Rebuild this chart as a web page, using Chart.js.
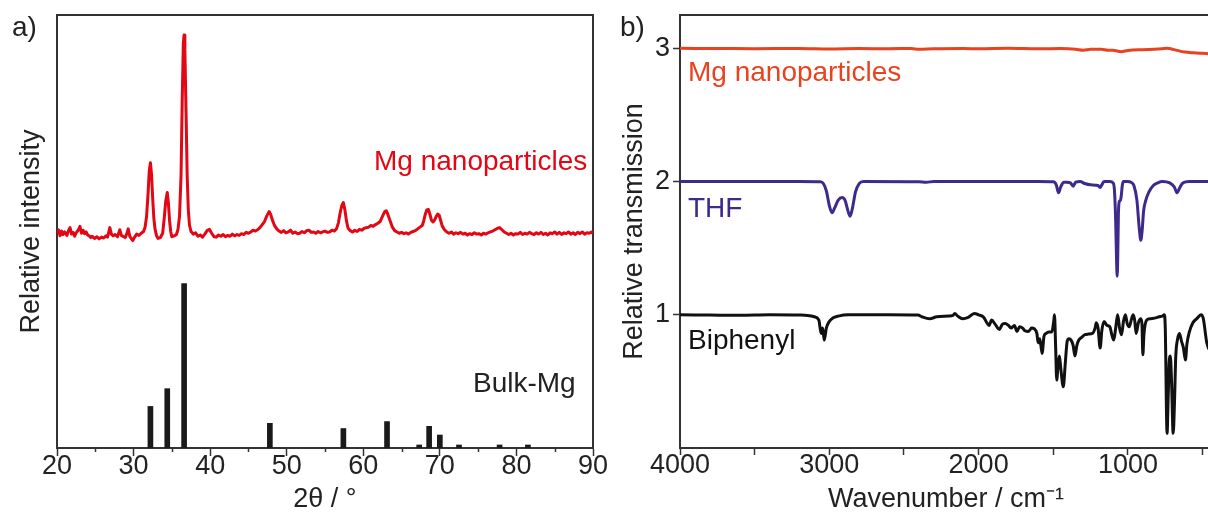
<!DOCTYPE html>
<html lang="en">
<head>
<meta charset="UTF-8">
<title>Mg nanoparticles - XRD and IR</title>
<script src="https://cdn.jsdelivr.net/npm/chart.js@4.4.0/dist/chart.umd.min.js"></script>
<style>
  body { margin: 0; background: #fff; width: 1208px; height: 519px; overflow: hidden; position: relative;
         font-family: "Liberation Sans", Arial, sans-serif; color: #222; }
  canvas { position: absolute; top: 0; }
  #xrdChart { left: 0; }
  #irChart { left: 600px; }
  .lbl { position: absolute; font-size: 28px; line-height: 28px; white-space: nowrap; }
</style>
</head>
<body>
<canvas id="xrdChart" width="640" height="519"></canvas>
<canvas id="irChart" width="620" height="519"></canvas>

<div class="lbl" style="left:12px; top:13px;">a)</div>
<div class="lbl" style="left:620px; top:13px;">b)</div>
<div class="lbl" style="left:374px; top:147px; color:#e30613;">Mg nanoparticles</div>
<div class="lbl" style="left:473px; top:369px; color:#222;">Bulk-Mg</div>
<div class="lbl" style="left:688px; top:58px; color:#e8431e;">Mg nanoparticles</div>
<div class="lbl" style="left:688px; top:194px; color:#3d2a8c;">THF</div>
<div class="lbl" style="left:688px; top:326px; color:#111;">Biphenyl</div>

<script>
// ---- a) XRD data ----
const xrdTicks = [20, 30, 40, 50, 60, 70, 80, 90];
const xrdMinorTicks = [25, 35, 45, 55, 65, 75, 85];

// Mg nanoparticles pattern [2theta, intensity]
const xrdNano = [
  [20.0,49.6],[20.2,50.4],[20.4,49.0],[20.6,50.1],[20.8,49.3],[21.0,49.9],[21.3,49.1],[21.5,50.2],[21.7,50.9],[21.9,49.4],
  [22.1,49.8],[22.3,48.9],[22.5,49.7],[22.8,50.4],[23.0,51.2],[23.2,49.6],[23.4,50.3],[23.6,49.5],[23.8,49.9],[24.0,49.2],
  [24.2,49.0],[24.4,48.6],[24.6,48.9],[24.9,48.4],[25.2,48.8],[25.5,48.3],[25.8,48.7],[26.1,48.5],[26.4,49.0],[26.6,48.7],
  [26.9,50.9],[27.1,49.4],[27.3,49.0],[27.6,49.3],[27.9,48.8],[28.2,50.4],[28.4,49.1],[28.7,48.8],[28.9,48.6],[29.1,49.4],
  [29.3,50.6],[29.5,48.9],[29.7,48.4],[29.9,47.9],[30.1,48.6],[30.4,49.4],[30.7,49.1],[31.0,49.6],[31.3,50.0],[31.5,51.0],
  [31.7,53.5],[31.9,59.0],[32.05,64.0],[32.2,65.9],[32.35,63.0],[32.5,57.5],[32.65,53.0],[32.8,50.6],[33.0,49.0],[33.2,48.4],
  [33.5,48.6],[33.8,49.6],[34.0,53.0],[34.2,57.0],[34.4,59.0],[34.55,56.5],[34.7,52.5],[34.85,50.0],[35.0,48.8],[35.3,49.0],
  [35.6,49.3],[35.8,50.5],[36.0,53.5],[36.2,63.0],[36.35,80.0],[36.5,93.5],[36.6,95.4],[36.7,92.0],[36.85,78.0],[37.0,63.0],
  [37.15,55.0],[37.3,51.5],[37.5,50.0],[37.8,49.4],[38.1,49.7],[38.4,48.9],[38.7,49.2],[39.0,48.7],[39.3,49.4],[39.6,50.2],
  [39.9,50.5],[40.2,49.6],[40.5,48.8],[40.8,48.7],[41.1,49.2],[41.4,48.9],[41.7,49.3],[42.0,48.8],[42.3,49.1],[42.6,48.9],
  [42.9,49.4],[43.2,49.0],[43.5,49.3],[43.8,49.1],[44.1,49.5],[44.4,49.3],[44.7,49.8],[45.0,49.6],[45.3,49.9],[45.6,50.3],
  [45.9,50.1],[46.2,50.4],[46.5,50.9],[46.8,51.6],[47.1,52.3],[47.4,53.6],[47.7,54.6],[47.9,54.0],[48.1,52.8],[48.4,51.4],
  [48.7,50.6],[49.0,50.1],[49.3,49.8],[49.6,50.2],[49.9,49.7],[50.2,49.9],[50.5,50.3],[50.8,49.6],[51.1,49.9],[51.4,49.5],
  [51.7,49.6],[52.0,50.0],[52.3,49.7],[52.6,50.2],[52.9,50.3],[53.2,49.8],[53.5,49.9],[53.8,49.6],[54.1,50.0],[54.4,49.7],
  [54.7,49.9],[55.0,50.1],[55.3,49.8],[55.6,49.9],[55.9,50.3],[56.2,50.1],[56.5,50.6],[56.75,52.0],[57.0,54.5],[57.2,56.0],
  [57.4,56.7],[57.6,55.0],[57.8,52.5],[58.0,50.8],[58.3,50.2],[58.6,49.9],[58.9,50.3],[59.2,50.0],[59.5,50.5],[59.8,50.3],
  [60.1,50.7],[60.4,50.9],[60.7,51.0],[61.0,51.4],[61.3,51.2],[61.6,51.6],[61.9,51.9],[62.2,52.3],[62.5,53.5],[62.8,54.6],
  [63.0,54.8],[63.2,54.0],[63.5,52.5],[63.8,51.0],[64.1,50.2],[64.4,49.9],[64.7,49.6],[65.0,49.8],[65.3,49.5],[65.6,49.7],
  [65.9,49.4],[66.2,49.8],[66.5,50.0],[66.8,50.2],[67.1,50.6],[67.4,51.0],[67.7,51.4],[67.9,52.5],[68.1,54.0],[68.3,55.0],
  [68.5,55.1],[68.7,54.0],[68.9,52.6],[69.1,52.2],[69.3,52.6],[69.5,53.4],[69.7,54.0],[69.9,53.8],[70.1,52.6],[70.3,51.3],
  [70.6,50.4],[70.9,49.9],[71.2,49.6],[71.5,49.9],[71.8,49.4],[72.1,49.7],[72.4,49.5],[72.7,49.8],[73.0,49.4],[73.3,49.6],
  [73.6,49.2],[73.9,49.5],[74.2,49.3],[74.5,49.7],[74.8,49.4],[75.1,49.5],[75.4,49.2],[75.7,49.6],[76.0,49.4],[76.3,49.7],
  [76.6,49.9],[76.9,50.1],[77.2,50.4],[77.5,50.7],[77.8,50.9],[78.1,50.4],[78.4,49.9],[78.7,49.6],[79.0,49.3],[79.3,49.6],
  [79.6,49.2],[79.9,49.5],[80.2,49.4],[80.5,49.8],[80.8,49.3],[81.1,49.6],[81.4,49.4],[81.7,49.8],[82.0,49.5],[82.3,49.3],
  [82.6,49.7],[82.9,49.4],[83.2,49.8],[83.5,49.3],[83.8,49.6],[84.1,49.2],[84.4,49.7],[84.7,49.5],[85.0,49.9],[85.3,49.4],
  [85.6,49.8],[85.9,49.3],[86.2,49.7],[86.5,49.5],[86.8,49.9],[87.1,49.4],[87.4,49.7],[87.7,49.3],[88.0,49.8],[88.3,49.5],
  [88.6,49.9],[88.9,49.4],[89.2,49.7],[89.5,49.6],[89.8,49.9],[90.0,49.6]
];

// Bulk-Mg reference reflections
const bulkAngles    = [32.2, 34.4, 36.6, 47.8, 57.4, 63.1, 67.3, 68.6, 70.0, 72.5, 77.8, 81.5];
const bulkIntensity = [9.6, 13.7, 38.0, 5.7, 4.5, 6.1, 0.7, 5.0, 3.0, 0.7, 0.7, 0.7];

// ---- b) IR data [wavenumber, relative transmission] ----
const irTicks = [4000, 3500, 3000, 2500, 2000, 1500, 1000, 500];
const irYTicks = [1, 2, 3];

const irMg = [
  [4000,3.0],[3700,2.998],[3500,2.997],[3200,2.999],[3000,2.995],[2800,2.998],[2600,2.997],[2450,2.999],[2400,2.992],
  [2300,2.996],[2100,2.998],[2000,2.997],[1800,3.0],[1600,2.996],[1450,2.998],[1350,2.993],[1300,2.986],[1250,2.992],
  [1180,2.993],[1133,2.985],[1100,2.985],[1046,2.975],[1000,2.984],[900,2.99],[800,2.994],[740,3.0],[725,2.998],
  [690,2.99],[620,2.972],[560,2.966],[500,2.962],[437,2.958]
];

const irTHF = [
  [4000,2.0],[3600,2.0],[3200,2.0],[3060,1.998],[3040,1.985],[3020,1.93],[3000,1.82],[2982,1.765],[2965,1.8],[2940,1.86],
  [2915,1.88],[2895,1.86],[2875,1.78],[2861,1.74],[2845,1.8],[2825,1.92],[2800,1.985],[2770,2.0],[2400,1.998],[2350,1.995],
  [2300,2.0],[1600,2.0],[1500,1.998],[1480,1.975],[1465,1.915],[1450,1.96],[1430,1.995],[1410,1.995],[1385,1.99],
  [1367,1.965],[1350,1.995],[1320,2.0],[1290,1.985],[1250,1.975],[1200,1.97],[1187,1.955],[1175,1.975],[1160,2.0],
  [1120,2.0],[1100,1.99],[1090,1.93],[1082,1.7],[1076,1.4],[1072,1.29],[1068,1.45],[1064,1.75],[1058,1.85],[1050,1.86],
  [1044,1.9],[1038,1.97],[1030,2.0],[1000,2.0],[980,1.995],[960,1.97],[940,1.86],[925,1.66],[914,1.56],[905,1.63],
  [895,1.78],[880,1.86],[860,1.92],[830,1.97],[800,1.99],[770,2.0],[720,1.99],[690,1.96],[670,1.915],[655,1.95],
  [630,1.99],[590,2.0],[437,2.0]
];

const irBiphenyl = [
  [4000,1.0],[3800,0.998],[3600,0.996],[3400,1.0],[3200,0.998],[3146,0.995],[3100,0.985],[3070,0.96],[3055,0.86],
  [3045,0.9],[3034,0.81],[3020,0.9],[3000,0.95],[2977,0.975],[2940,0.99],[2873,1.0],[2600,1.0],[2406,0.998],[2380,0.985],
  [2328,0.97],[2280,0.985],[2200,0.99],[2172,0.995],[2160,1.01],[2140,0.99],[2107,0.97],[2070,0.98],[2030,1.01],
  [2000,1.0],[1965,0.98],[1945,0.94],[1930,0.92],[1913,0.96],[1890,0.93],[1861,0.89],[1840,0.93],[1822,0.935],
  [1800,0.92],[1783,0.9],[1760,0.92],[1744,0.875],[1725,0.91],[1705,0.9],[1690,0.88],[1666,0.875],[1645,0.9],
  [1627,0.895],[1610,0.86],[1601,0.79],[1590,0.82],[1575,0.71],[1562,0.84],[1549,0.86],[1530,0.87],[1510,0.87],
  [1497,0.95],[1492,1.0],[1484,0.75],[1477,0.51],[1468,0.62],[1459,0.69],[1450,0.6],[1433,0.46],[1420,0.63],[1407,0.8],
  [1395,0.82],[1381,0.81],[1367,0.77],[1355,0.69],[1342,0.77],[1329,0.81],[1310,0.83],[1290,0.85],[1265,0.855],
  [1238,0.86],[1220,0.9],[1212,0.94],[1200,0.9],[1186,0.75],[1175,0.88],[1160,0.95],[1140,0.92],[1121,0.91],
  [1108,0.85],[1095,0.81],[1082,0.9],[1069,1.0],[1056,0.9],[1043,0.85],[1030,0.95],[1017,1.0],[1004,0.93],[991,0.91],
  [978,0.96],[965,1.0],[955,0.96],[945,0.86],[930,0.94],[913,0.97],[906,0.93],[900,0.7],[893,0.85],[874,0.96],
  [850,0.97],[822,0.975],[790,0.985],[770,0.99],[757,1.0],[750,0.9],[738,0.11],[730,0.4],[724,0.64],[716,0.69],
  [708,0.5],[697,0.11],[688,0.35],[680,0.68],[667,0.82],[655,0.86],[641,0.8],[628,0.75],[615,0.66],[605,0.78],
  [589,0.87],[565,0.94],[537,0.973],[511,1.0],[495,0.97],[472,0.79],[437,0.7]
];

Chart.defaults.font.family = '"Liberation Sans", Arial, sans-serif';
Chart.defaults.color = '#222';
Chart.defaults.animation = false;

const axisColor = '#333';
const tickFont = { size: 27, lineHeight: 1.0 };
const yTickFont = { size: 27, lineHeight: 0.8 };
const titleFont = { size: 27 };

// fixed axis box sizes so both plot frames land where the figure has them
function fixSize(w, h) {
  return function (scale) {
    if (w !== null) scale.width = w;
    if (h !== null) scale.height = h;
  };
}

function frameAxis(position, w, h) {
  return {
    position: position,
    display: true,
    ticks: { display: false },
    grid: { display: false },
    border: { display: true, color: axisColor, width: 2 },
    afterFit: fixSize(w, h)
  };
}

// short minor ticks on the 2θ axis
const minorTicks = {
  id: 'minorTicks',
  afterDraw(chart) {
    const sc = chart.scales.x;
    const ctx = chart.ctx;
    ctx.save();
    ctx.strokeStyle = axisColor;
    ctx.lineWidth = 1.5;
    xrdMinorTicks.forEach(v => {
      const px = Math.round(sc.getPixelForValue(v)) + 0.5;
      ctx.beginPath();
      ctx.moveTo(px, sc.top);
      ctx.lineTo(px, sc.top + 4);
      ctx.stroke();
    });
    ctx.restore();
  }
};

new Chart(document.getElementById('xrdChart'), {
  type: 'line',
  data: {
    datasets: [
      {
        label: 'Mg nanoparticles',
        data: xrdNano,
        borderColor: '#e30613',
        borderWidth: 3,
        borderJoinStyle: 'round',
        pointRadius: 0,
        tension: 0,
        order: 1
      },
      {
        type: 'bar',
        label: 'Bulk-Mg',
        data: bulkAngles.map((a, i) => ({ x: a, y: bulkIntensity[i] })),
        backgroundColor: '#1a1a1a',
        barThickness: 5,
        grouped: false,
        order: 2
      }
    ]
  },
  options: {
    responsive: false,
    layout: { padding: 0 },
    plugins: { legend: { display: false }, tooltip: { enabled: false } },
    scales: {
      x: {
        type: 'linear',
        min: 20, max: 90,
        offset: false,
        afterBuildTicks: s => { s.ticks = xrdTicks.map(v => ({ value: v })); },
        ticks: { font: tickFont, padding: -3, maxRotation: 0, color: '#222' },
        grid: { display: true, drawOnChartArea: false, drawTicks: true, tickLength: 8, tickWidth: 1.5, tickColor: axisColor, offset: false },
        border: { display: true, color: axisColor, width: 2 },
        title: { display: true, text: '2θ / °', font: titleFont, padding: { top: 0, bottom: 3 }, color: '#222' },
        afterFit: fixSize(null, 71)
      },
      xTop: frameAxis('top', null, 15),
      y: {
        min: 0, max: 100,
        ticks: { display: false },
        grid: { display: false },
        border: { display: true, color: axisColor, width: 2 },
        title: { display: true, text: 'Relative intensity', font: titleFont, padding: { top: 15, bottom: 0 }, color: '#222' },
        afterFit: fixSize(57, null)
      },
      yRight: frameAxis('right', 47, null)
    }
  },
  plugins: [minorTicks]
});

new Chart(document.getElementById('irChart'), {
  type: 'line',
  data: {
    datasets: [
      { label: 'Mg nanoparticles', data: irMg, borderColor: '#e8431e' },
      { label: 'THF', data: irTHF, borderColor: '#3d2a8c' },
      { label: 'Biphenyl', data: irBiphenyl, borderColor: '#111' }
    ].map(d => Object.assign(d, { borderWidth: 3, pointRadius: 0, cubicInterpolationMode: 'monotone' }))
  },
  options: {
    responsive: false,
    layout: { padding: { right: 8 } },
    plugins: { legend: { display: false }, tooltip: { enabled: false } },
    scales: {
      x: {
        type: 'linear',
        reverse: true,
        min: 437, max: 4000,
        afterBuildTicks: s => { s.ticks = irTicks.map(v => ({ value: v })); },
        ticks: {
          font: tickFont, padding: -3, maxRotation: 0, color: '#222',
          callback: v => (v % 1000 === 0 ? String(v) : '')
        },
        grid: { display: true, drawOnChartArea: false, drawTicks: true, tickLength: 7, tickWidth: 1.5, tickColor: axisColor },
        border: { display: true, color: axisColor, width: 2 },
        title: { display: true, text: 'Wavenumber / cm⁻¹', font: titleFont, padding: { top: 0, bottom: 3 }, color: '#222' },
        afterFit: fixSize(null, 71)
      },
      xTop: frameAxis('top', null, 15),
      y: {
        min: 0, max: 3.25,
        afterBuildTicks: s => { s.ticks = irYTicks.map(v => ({ value: v })); },
        ticks: { font: yTickFont, padding: 3, color: '#222' },
        grid: { display: true, drawOnChartArea: false, drawTicks: true, tickLength: 7, tickWidth: 1.5, tickColor: axisColor },
        border: { display: true, color: axisColor, width: 2 },
        title: { display: true, text: 'Relative transmission', font: titleFont, padding: { top: 18, bottom: 0 }, color: '#222' },
        afterFit: fixSize(80, null)
      }
    }
  }
});
</script>
</body>
</html>
